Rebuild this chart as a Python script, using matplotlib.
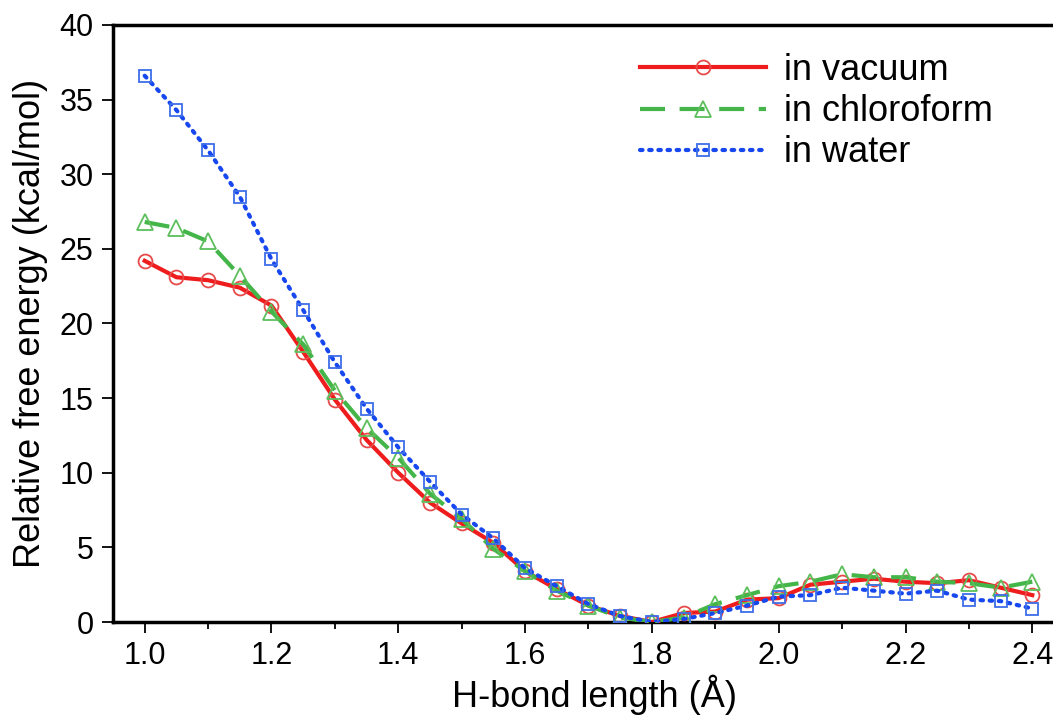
import matplotlib
matplotlib.use("Agg")
import matplotlib.pyplot as plt
from matplotlib.ticker import MultipleLocator

plt.rcParams["font.family"] = ["Liberation Sans", "DejaVu Sans"]

# H-bond length (Å), step 0.05
bond_length = [1.00, 1.05, 1.10, 1.15, 1.20, 1.25, 1.30, 1.35, 1.40, 1.45,
               1.50, 1.55, 1.60, 1.65, 1.70, 1.75, 1.80, 1.85, 1.90, 1.95,
               2.00, 2.05, 2.10, 2.15, 2.20, 2.25, 2.30, 2.35, 2.40]

vacuum = [24.2, 23.1, 22.9, 22.4, 21.2, 18.1, 14.9, 12.2, 10.0, 8.0,
          6.6, 5.3, 3.4, 2.2, 1.1, 0.4, 0.0, 0.6, 0.7, 1.5,
          1.6, 2.5, 2.7, 2.9, 2.7, 2.6, 2.8, 2.3, 1.8]

chloroform = [26.8, 26.4, 25.5, 23.2, 20.8, 18.6, 15.5, 13.0, 11.0, 8.6,
              6.9, 4.9, 3.4, 2.1, 1.1, 0.3, 0.0, 0.3, 1.2, 1.8,
              2.4, 2.7, 3.2, 3.0, 3.0, 2.7, 2.6, 2.3, 2.7]

water = [36.6, 34.3, 31.6, 28.5, 24.3, 20.9, 17.4, 14.3, 11.7, 9.4,
         7.2, 5.6, 3.6, 2.4, 1.2, 0.4, 0.0, 0.2, 0.6, 1.1,
         1.7, 1.8, 2.3, 2.1, 1.9, 2.1, 1.5, 1.4, 0.9]

LABEL_SIZE = 26
TICK_SIZE = 22

fig = plt.figure(figsize=(10.53, 7.22), dpi=100)
# axes run past the right edge of the figure, as in the cropped original
ax = fig.add_axes([0.1073, 0.1385, 0.9152, 0.8269])

ax.plot(bond_length, vacuum, color="#ee1c1c", lw=3.0, marker="o", ms=10,
        mfc="none", mec="#e84a4a", mew=1.3, label="in vacuum", zorder=3)
ax.plot(bond_length, chloroform, color="#44b649", lw=3.0, ls=(0, (6, 3.5)),
        marker="^", ms=11, mfc="none", mec="#5cbf5c", mew=1.3,
        label="in chloroform", zorder=4)
ax.plot(bond_length, water, color="#1747ee", lw=3.0, ls=(0, (0.6, 1.6)),
        dash_capstyle="round", marker="s", ms=9, mfc="none", mec="#3d6ee8",
        mew=1.3, label="in water", zorder=5)

ax.set_xlim(0.95, 2.47)
ax.set_ylim(0, 40)
ax.xaxis.set_major_locator(MultipleLocator(0.2))
ax.xaxis.set_minor_locator(MultipleLocator(0.1))
ax.yaxis.set_major_locator(MultipleLocator(5))
ax.xaxis.set_major_formatter(plt.FormatStrFormatter("%.1f"))

for side in ax.spines.values():
    side.set_linewidth(2.5)
ax.tick_params(axis="both", which="major", direction="out", length=8,
               width=1.3, labelsize=TICK_SIZE, pad=6)
ax.tick_params(axis="x", which="minor", direction="out", length=5, width=1.3)

ax.set_xlabel("H-bond length (Å)", fontsize=LABEL_SIZE, labelpad=2)
ax.set_ylabel("Relative free energy (kcal/mol)", fontsize=LABEL_SIZE, labelpad=8)

ax.legend(loc="upper left", bbox_to_anchor=(640 / 1053, 1 - 53 / 722),
          bbox_transform=fig.transFigure, frameon=False, fontsize=LABEL_SIZE,
          handlelength=3.5, handletextpad=0.5, labelspacing=0.17,
          borderpad=0, borderaxespad=0)

fig.savefig("out.png", dpi=100)
